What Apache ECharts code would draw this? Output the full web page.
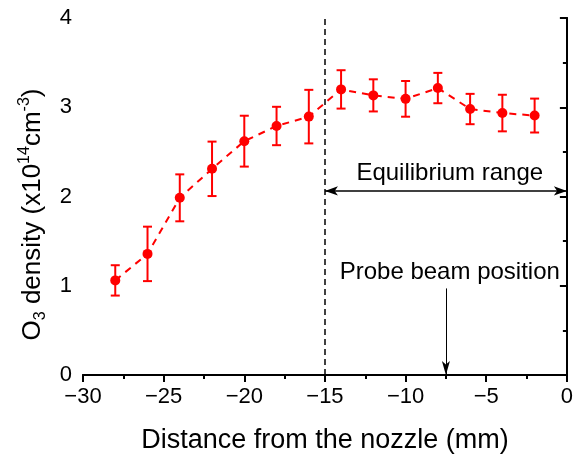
<!DOCTYPE html>
<html>
<head>
<meta charset="utf-8">
<script src="https://cdn.jsdelivr.net/npm/echarts@6/dist/echarts.min.js"></script>
<style>
  html, body { margin: 0; padding: 0; background: #fff; }
  #chart { width: 576px; height: 459px; }
</style>
</head>
<body>
<div id="chart"></div>
<script>
// distance from nozzle (mm) and O3 density (x10^14 cm^-3)
var distance = [-28, -26, -24, -22, -20, -18, -16, -14, -12, -10, -8, -6, -4, -2];
var density  = [1.06, 1.357, 1.985, 2.31, 2.62, 2.79, 2.895, 3.20, 3.133, 3.094, 3.215, 2.98, 2.935, 2.907];
var errBar   = [0.17, 0.305, 0.263, 0.305, 0.285, 0.215, 0.30, 0.215, 0.18, 0.20, 0.17, 0.17, 0.205, 0.19];

// annotations (data units)
var equilibriumLine = [[-15, 2.063], [0, 2.063]];
var equilibriumText = [-7.26, 2.26];
var probeLine = [[-7.5, 0.97], [-7.5, 0]];
var probeText = [-7.26, 1.148];
var boundaryX = -15;

var FONT = "'Liberation Sans', Arial, sans-serif";
var RED = '#ff0000';

var points = distance.map(function (x, i) { return [x, density[i]]; });
var bars = distance.map(function (x, i) { return [x, density[i] - errBar[i], density[i] + errBar[i]]; });

function minus(v) { return String(v).replace('-', '\u2212'); }

function renderErr(params, api) {
    var x = api.value(0);
    var lo = api.coord([x, api.value(1)]);
    var hi = api.coord([x, api.value(2)]);
    var w = 4.5;
    var st = { stroke: RED, lineWidth: 2 };
    return {
        type: 'group',
        children: [
            { type: 'line', shape: { x1: hi[0], y1: hi[1], x2: lo[0], y2: lo[1] }, style: st },
            { type: 'line', shape: { x1: hi[0] - w, y1: hi[1], x2: hi[0] + w, y2: hi[1] }, style: st },
            { type: 'line', shape: { x1: lo[0] - w, y1: lo[1], x2: lo[0] + w, y2: lo[1] }, style: st }
        ]
    };
}

var axisLine = { show: true, lineStyle: { color: '#000', width: 2 } };
var labelStyle = { color: '#000', fontFamily: FONT, fontSize: 22 };

var myChart = echarts.init(document.getElementById('chart'));
var option = {
    animation: false,
    backgroundColor: '#fff',
    grid: { left: 83, right: 7, top: 18, bottom: 82 },
    xAxis: [{
        type: 'value', min: -30, max: 0, interval: 5,
        position: 'bottom',
        axisLine: axisLine,
        axisTick: { show: true, inside: false, length: 7, lineStyle: { width: 2, color: '#000' } },
        minorTick: { show: true, splitNumber: 2, length: 4, lineStyle: { width: 2, color: '#000' } },
        splitLine: { show: false },
        axisLabel: Object.assign({ margin: 11, formatter: minus }, labelStyle),
        name: 'Distance from the nozzle (mm)',
        nameLocation: 'middle',
        nameGap: 52,
        nameTextStyle: { color: '#000', fontFamily: FONT, fontSize: 27 }
    }, {
        type: 'value', min: -30, max: 0, interval: 5,
        position: 'top',
        axisLine: axisLine,
        axisTick: { show: true, inside: true, length: 7, lineStyle: { width: 2, color: '#000' } },
        minorTick: { show: true, splitNumber: 2, length: 4, lineStyle: { width: 2, color: '#000' } },
        splitLine: { show: false },
        axisLabel: { show: false }
    }],
    yAxis: [{
        type: 'value', min: 0, max: 4, interval: 1,
        position: 'left',
        axisLine: axisLine,
        axisTick: { show: true, inside: false, length: 7, lineStyle: { width: 2, color: '#000' } },
        minorTick: { show: true, splitNumber: 2, length: 4, lineStyle: { width: 2, color: '#000' } },
        splitLine: { show: false },
        axisLabel: Object.assign({ margin: 11 }, labelStyle),
        name: '{b|O}{sub|3}{b| density (x10}{sup|14}{b|cm}{sup|-3}{b|)}',
        nameLocation: 'middle',
        nameGap: 34,
        nameTextStyle: {
            color: '#000', fontFamily: FONT, fontSize: 26,
            padding: [0, 36, 0, 0],
            rich: {
                b: { fontFamily: FONT, fontSize: 26, lineHeight: 32, color: '#000' },
                sub: { fontFamily: FONT, fontSize: 16, lineHeight: 32, verticalAlign: 'bottom', color: '#000' },
                sup: { fontFamily: FONT, fontSize: 16, lineHeight: 32, verticalAlign: 'top', color: '#000' }
            }
        }
    }, {
        type: 'value', min: 0, max: 4, interval: 1,
        position: 'right',
        axisLine: axisLine,
        axisTick: { show: true, inside: true, length: 7, lineStyle: { width: 2, color: '#000' } },
        minorTick: { show: true, splitNumber: 2, length: 4, lineStyle: { width: 2, color: '#000' } },
        splitLine: { show: false },
        axisLabel: { show: false }
    }],
    series: [{
        // annotations
        type: 'line',
        data: [],
        silent: true,
        markLine: {
            silent: true,
            animation: false,
            label: { show: false },
            data: [
                [
                    { coord: [boundaryX, 0], symbol: 'none' },
                    { coord: [boundaryX, 4], symbol: 'none', lineStyle: { color: '#000', width: 1.5, type: [6, 4] } }
                ],
                [
                    { coord: equilibriumLine[0], symbol: 'arrow', symbolSize: [7, 13] },
                    { coord: equilibriumLine[1], symbol: 'arrow', symbolSize: [7, 13], lineStyle: { color: '#000', width: 1.5, type: 'solid' } }
                ],
                [
                    { coord: probeLine[0], symbol: 'none' },
                    { coord: probeLine[1], symbol: 'arrow', symbolSize: [6, 14], lineStyle: { color: '#000', width: 1, type: 'solid' } }
                ]
            ]
        },
        markPoint: {
            silent: true,
            symbol: 'circle',
            symbolSize: 0,
            label: { show: true, position: 'inside', color: '#000', fontFamily: FONT, fontSize: 24 },
            data: [
                { coord: equilibriumText, value: 'Equilibrium range', label: { formatter: 'Equilibrium range' } },
                { coord: probeText, value: 'Probe beam position', label: { formatter: 'Probe beam position' } }
            ]
        }
    }, {
        type: 'custom',
        renderItem: renderErr,
        data: bars,
        encode: { x: 0, y: [1, 2] },
        silent: true,
        z: 3
    }, {
        type: 'line',
        data: points,
        symbol: 'circle',
        symbolSize: 10,
        itemStyle: { color: RED },
        lineStyle: { color: RED, width: 2, type: [7, 6] },
        silent: true,
        z: 4
    }]
};
myChart.setOption(option);
</script>
</body>
</html>
